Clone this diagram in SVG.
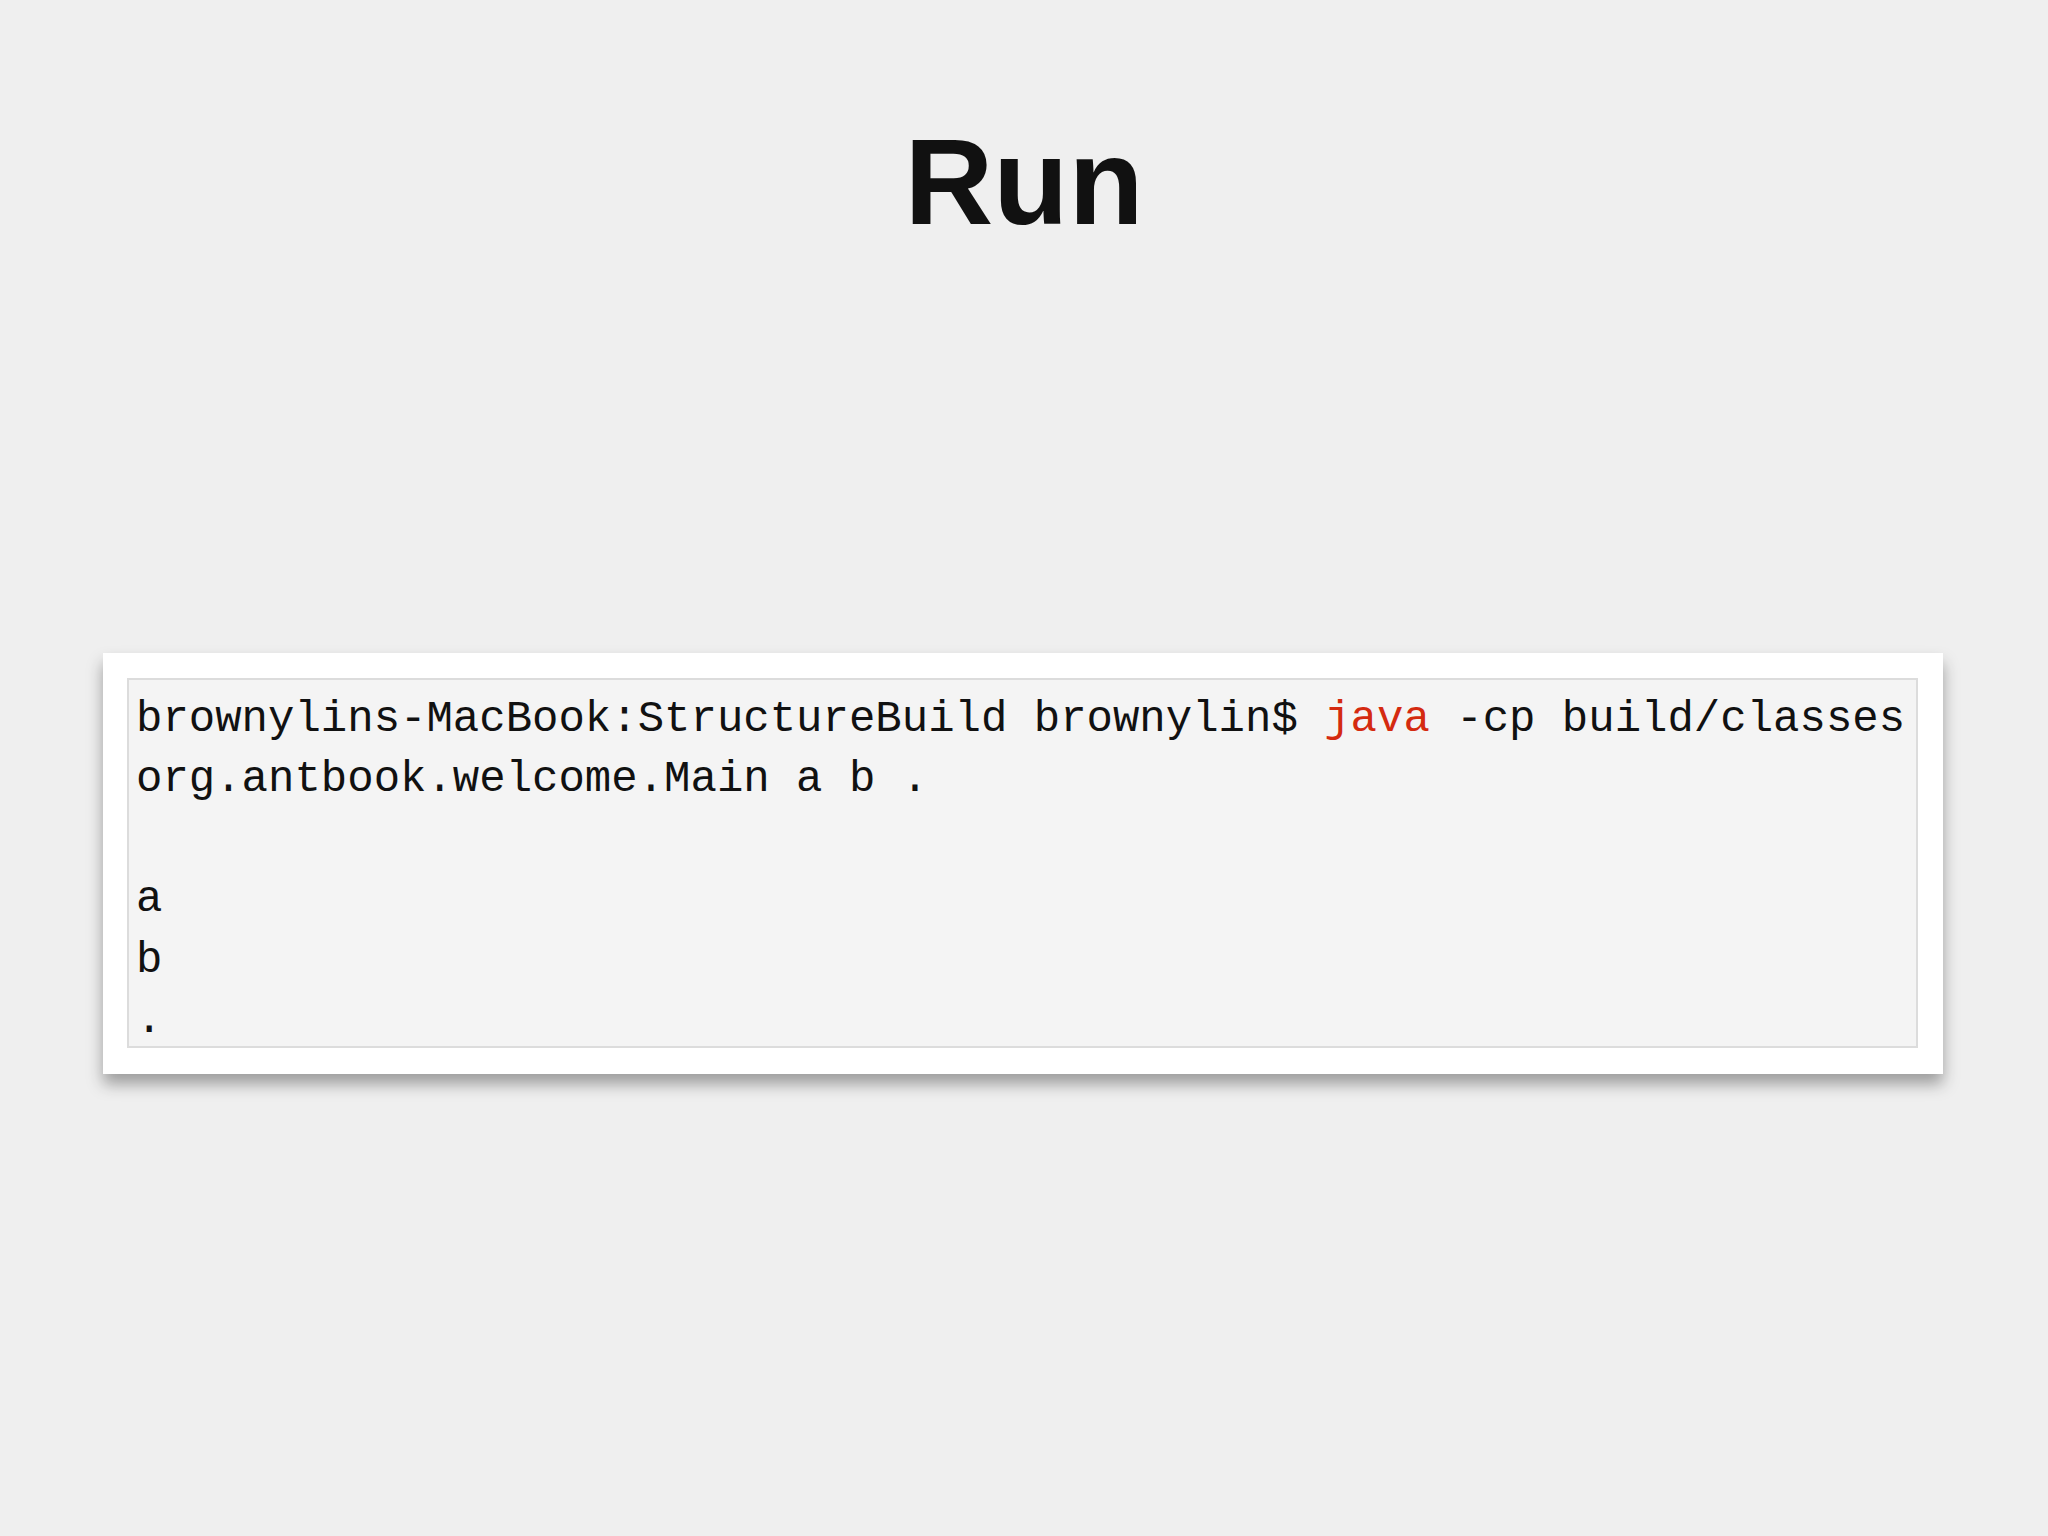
<svg xmlns="http://www.w3.org/2000/svg" width="2048" height="1536" viewBox="0 0 2048 1536">
<defs>
<style>
.t{font-family:"Liberation Mono","DejaVu Sans Mono",monospace;font-size:44px;fill:#111}
</style>
<filter id="sh" x="-5%" y="-10%" width="110%" height="130%"><feDropShadow dx="0" dy="10" stdDeviation="8" flood-color="#000" flood-opacity="0.35"/></filter>
</defs>
<rect width="2048" height="1536" fill="#efefef"/>
<text x="1024" y="224" text-anchor="middle" font-family="Liberation Sans, Arial, sans-serif" font-weight="bold" font-size="123" fill="#111">Run</text>
<g id="card">
<rect x="103" y="653" width="1840" height="421" fill="#fff" filter="url(#sh)"/>
<rect x="128" y="679" width="1789" height="368" fill="#f4f4f4" stroke="#dcdcdc" stroke-width="2"/>
<text class="t" x="136" y="731">brownylins-MacBook:StructureBuild brownylin$ <tspan fill="#d42a10">java</tspan> -cp build/classes</text>
<text class="t" x="136" y="791">org.antbook.welcome.Main a b .</text>
<text class="t" x="136" y="911">a</text>
<text class="t" x="136" y="972">b</text>
<text class="t" x="136" y="1032">.</text>
</g>
</svg>
